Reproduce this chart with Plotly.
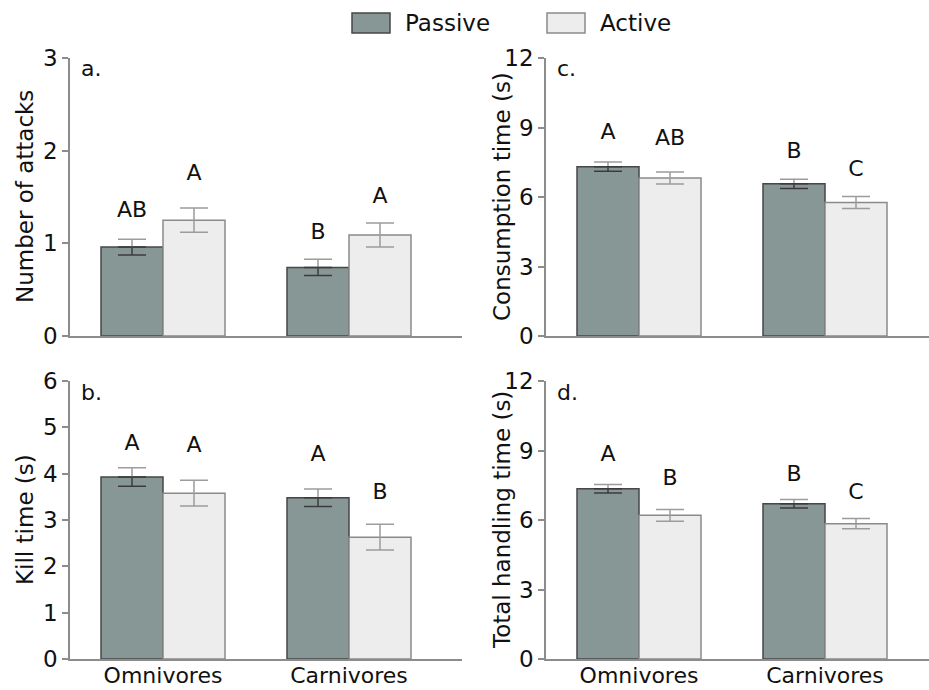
import plotly.graph_objects as go

# ---------------- data ----------------
categories = ["Omnivores", "Carnivores"]
groups = ["Passive", "Active"]

attacks_passive = [0.96, 0.74]
attacks_passive_err = [0.085, 0.088]
attacks_active = [1.25, 1.09]
attacks_active_err = [0.13, 0.13]

kill_passive = [3.93, 3.48]
kill_passive_err = [0.20, 0.19]
kill_active = [3.58, 2.63]
kill_active_err = [0.28, 0.28]

consumption_passive = [7.31, 6.57]
consumption_passive_err = [0.20, 0.20]
consumption_active = [6.82, 5.76]
consumption_active_err = [0.26, 0.26]

handling_passive = [7.35, 6.70]
handling_passive_err = [0.18, 0.18]
handling_active = [6.20, 5.84]
handling_active_err = [0.25, 0.22]

# significance letters and their heights
attacks_letters_passive = ["AB", "B"]
attacks_letters_passive_y = [1.34, 1.11]
attacks_letters_active = ["A", "A"]
attacks_letters_active_y = [1.74, 1.50]

kill_letters_passive = ["A", "A"]
kill_letters_passive_y = [4.64, 4.39]
kill_letters_active = ["A", "B"]
kill_letters_active_y = [4.59, 3.58]

consumption_letters_passive = ["A", "B"]
consumption_letters_passive_y = [8.75, 7.91]
consumption_letters_active = ["AB", "C"]
consumption_letters_active_y = [8.49, 7.16]

handling_letters_passive = ["A", "B"]
handling_letters_passive_y = [8.77, 7.90]
handling_letters_active = ["B", "C"]
handling_letters_active_y = [7.76, 7.15]

y_titles = ["Number of attacks", "Consumption time (s)", "Kill time (s)", "Total handling time (s)"]
panel_labels = ["a.", "c.", "b.", "d."]
y_ranges = [[0, 3], [0, 12], [0, 6], [0, 12]]
y_ticks = [[0, 1, 2, 3], [0, 3, 6, 9, 12], [0, 1, 2, 3, 4, 5, 6], [0, 3, 6, 9, 12]]

# ---------------- style ----------------
FONT = "DejaVu Sans"
PASSIVE_FILL = "#879795"
ACTIVE_FILL = "#ededed"
PASSIVE_EDGE = "#474747"
ACTIVE_EDGE = "#8a8a8a"
ERR_LIGHT = "#9c9c9c"
ERR_DARK = "#3a3a3a"
AXIS = "#8c8c8c"
TEXT = "#111111"
BAR_W = 1 / 3

W, H = 929, 690
# panel boxes in pixels: (left, right, top, bottom)
boxes = [(70, 462, 58, 336), (546, 929, 58, 336), (70, 462, 381, 659), (546, 929, 381, 659)]
PX_PER_CAT = 186.0

panels = [
    (attacks_passive, attacks_passive_err, attacks_active, attacks_active_err,
     attacks_letters_passive, attacks_letters_passive_y, attacks_letters_active, attacks_letters_active_y),
    (consumption_passive, consumption_passive_err, consumption_active, consumption_active_err,
     consumption_letters_passive, consumption_letters_passive_y, consumption_letters_active, consumption_letters_active_y),
    (kill_passive, kill_passive_err, kill_active, kill_active_err,
     kill_letters_passive, kill_letters_passive_y, kill_letters_active, kill_letters_active_y),
    (handling_passive, handling_passive_err, handling_active, handling_active_err,
     handling_letters_passive, handling_letters_passive_y, handling_letters_active, handling_letters_active_y),
]

fig = go.Figure()
xpos = list(range(len(categories)))
layout = dict(
    width=W, height=H, autosize=False,
    margin=dict(l=0, r=0, t=0, b=0, pad=0),
    paper_bgcolor="white", plot_bgcolor="white",
    barmode="group", bargap=BAR_W, bargroupgap=0,
    showlegend=False,
    font=dict(family=FONT, size=23, color=TEXT),
)
annotations = []
shapes = []

for k, (pv, pe, av, ae, lp, lpy, la, lay) in enumerate(panels):
    sfx = "" if k == 0 else str(k + 1)
    xa, ya = "x" + sfx, "y" + sfx
    left, right, top, bottom = boxes[k]
    span = (right - left) / PX_PER_CAT
    layout["xaxis" + sfx] = dict(
        domain=[left / W, right / W], range=[-0.5, -0.5 + span],
        anchor=ya, showline=True, linecolor=AXIS, linewidth=1.5,
        showgrid=False, zeroline=False, ticks="",
        tickmode="array", tickvals=xpos, ticktext=categories,
        showticklabels=(k >= 2), tickfont=dict(size=22, family=FONT, color=TEXT),
        ticklabelstandoff=-4,
        fixedrange=True, automargin=False,
    )
    layout["yaxis" + sfx] = dict(
        domain=[(H - bottom) / H, (H - top) / H], range=y_ranges[k],
        anchor=xa, showline=True, linecolor=AXIS, linewidth=1.5,
        showgrid=False, zeroline=False, ticks="outside", ticklen=6,
        tickcolor=AXIS, tickwidth=1.5,
        tickmode="array", tickvals=y_ticks[k],
        tickfont=dict(size=23, family=FONT, color=TEXT),
        fixedrange=True, automargin=False,
    )
    fig.add_trace(go.Bar(
        x=xpos, y=pv, name=groups[0], xaxis=xa, yaxis=ya,
        marker=dict(color=PASSIVE_FILL, line=dict(color=PASSIVE_EDGE, width=1.5)),
        error_y=dict(type="data", array=pe, color=ERR_LIGHT, thickness=1.5, width=14),
    ))
    fig.add_trace(go.Bar(
        x=xpos, y=av, name=groups[1], xaxis=xa, yaxis=ya,
        marker=dict(color=ACTIVE_FILL, line=dict(color=ACTIVE_EDGE, width=1.5)),
        error_y=dict(type="data", array=ae, color=ERR_LIGHT, thickness=1.5, width=14),
    ))
    # darker lower half of the error bar inside the passive bars
    px = [i - BAR_W / 2 for i in xpos]
    ax_ = [i + BAR_W / 2 for i in xpos]
    fig.add_trace(go.Scatter(
        x=px, y=pv, mode="markers", marker=dict(size=1, opacity=0),
        xaxis=xa, yaxis=ya, hoverinfo="skip",
        error_y=dict(type="data", symmetric=False, array=[0] * len(pv), arrayminus=pe,
                     color=ERR_DARK, thickness=1.5, width=14),
    ))
    # significance letters
    fig.add_trace(go.Scatter(
        x=px + ax_, y=lpy + lay, text=lp + la, mode="text",
        textposition="middle center", xaxis=xa, yaxis=ya, hoverinfo="skip",
        textfont=dict(size=22, family=FONT, color=TEXT),
    ))
    # y-axis title
    title_cx = 25 if left < 200 else 502
    annotations.append(dict(
        text=y_titles[k], xref="paper", yref="paper",
        x=title_cx / W, y=(H - (top + bottom) / 2) / H,
        xanchor="center", yanchor="middle", textangle=-90, showarrow=False,
        font=dict(size=23, family=FONT, color=TEXT),
    ))
    # panel label
    annotations.append(dict(
        text=panel_labels[k], xref="paper", yref="paper",
        x=(left + 9) / W, y=(H - (top + 11)) / H,
        xanchor="left", yanchor="middle", showarrow=False,
        font=dict(size=22, family=FONT, color=TEXT),
    ))

# legend drawn as large swatches
legend_items = [(groups[0], PASSIVE_FILL, PASSIVE_EDGE, 352), (groups[1], ACTIVE_FILL, ACTIVE_EDGE, 547)]
for name, fill, edge, x0 in legend_items:
    shapes.append(dict(
        type="rect", xref="paper", yref="paper",
        x0=x0 / W, x1=(x0 + 38) / W, y0=(H - 33) / H, y1=(H - 13) / H,
        fillcolor=fill, line=dict(color=edge, width=1.5),
    ))
    annotations.append(dict(
        text=name, xref="paper", yref="paper",
        x=(x0 + 51) / W, y=(H - 23) / H, xanchor="left", yanchor="middle",
        showarrow=False, font=dict(size=23, family=FONT, color=TEXT),
    ))

layout["annotations"] = annotations
layout["shapes"] = shapes
fig.update_layout(**layout)
fig.write_html(
    "out.html",
    config={"displayModeBar": False},
    post_script="document.body.style.margin='0';document.body.style.padding='0';document.body.style.overflow='hidden';",
)
